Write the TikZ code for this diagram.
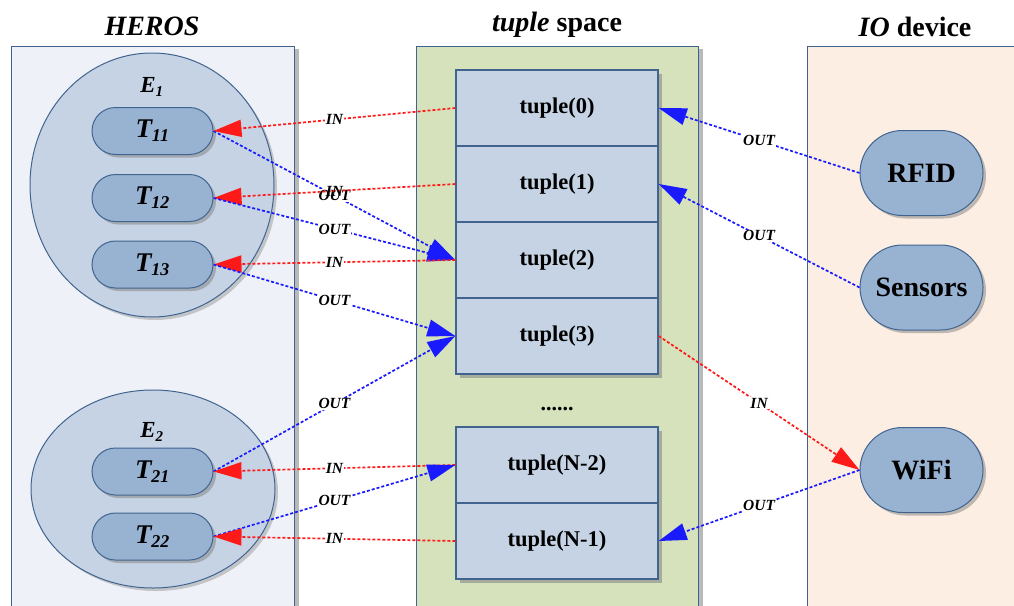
\documentclass[tikz,border=0pt]{standalone}
\usepackage{fontspec}
\setmainfont{Liberation Serif}
\usetikzlibrary{arrows.meta,shadows,shapes.misc,shapes.geometric}
\definecolor{bord}{HTML}{41648F}
\definecolor{herosbg}{HTML}{EEF2F8}
\definecolor{tsbg}{HTML}{D6E2BC}
\definecolor{iobg}{HTML}{FDEEE3}
\definecolor{ellfill}{HTML}{C5D3E4}
\definecolor{capfill}{HTML}{98B2D2}
\definecolor{boxfill}{HTML}{C5D3E4}
\definecolor{inred}{HTML}{FF1A1A}
\definecolor{outblue}{HTML}{1A1AFF}
\begin{document}
\begin{tikzpicture}[x=1pt,y=-1pt,
  panel/.style={draw=bord, line width=1.3pt, inner sep=0pt, anchor=north west,
    drop shadow={shadow xshift=4pt, shadow yshift=-2pt, opacity=0.55, fill=gray}},
  title/.style={font=\fontsize{28}{32}\selectfont\bfseries, inner sep=0pt},
  ell/.style={ellipse, draw=bord, line width=1pt, fill=ellfill, inner sep=0pt,
    drop shadow={shadow xshift=3pt, shadow yshift=-3pt, opacity=0.4, fill=gray}},
  capsule/.style={rounded rectangle, draw=bord, line width=1pt, fill=capfill, inner sep=0pt,
    minimum width=121pt, minimum height=47pt, font=\fontsize{27}{30}\selectfont\bfseries\itshape,
    drop shadow={shadow xshift=3pt, shadow yshift=-3pt, opacity=0.5, fill=gray}},
  devbox/.style={rounded rectangle, draw=bord, line width=1pt, fill=capfill, inner sep=0pt,
    minimum width=123pt, minimum height=85pt, font=\fontsize{28}{31}\selectfont\bfseries,
    drop shadow={shadow xshift=3pt, shadow yshift=-3pt, opacity=0.5, fill=gray}},
  tbox/.style={rectangle, draw=bord, line width=1.3pt, fill=boxfill, inner sep=0pt,
    minimum width=202pt, minimum height=76pt, font=\fontsize{22.5}{25}\selectfont\bfseries,
    drop shadow={shadow xshift=4pt, shadow yshift=-4pt, opacity=0.55, fill=gray}},
  elab/.style={font=\fontsize{23}{26}\selectfont\bfseries\itshape, inner sep=0pt},
  conn/.style={line width=1.7pt, dash pattern=on 3pt off 2pt, -{Triangle[length=28pt,width=17pt]}},
  inl/.style={conn, inred},
  outl/.style={conn, outblue},
  lab/.style={midway, font=\fontsize{15.5}{17}\selectfont\bfseries\itshape, text=black,
    fill=white, inner sep=1pt},
  labnf/.style={midway, font=\fontsize{15.5}{17}\selectfont\bfseries\itshape, text=black,
    inner sep=1pt}
]
\useasboundingbox (0,0) rectangle (1014,605);
\fill[white] (0,0) rectangle (1014,605);

% panels
\node[panel, fill=herosbg, minimum width=283pt, minimum height=600pt] (heros) at (11,46) {};
\node[panel, fill=tsbg, minimum width=282pt, minimum height=600pt] (ts) at (416,46) {};
\node[panel, fill=iobg, minimum width=240pt, minimum height=600pt] (io) at (807,46) {};

% titles
\node[title] (th) at (152,26) {\itshape HEROS};
\node[title] (tt) at (557,25) {\textit{tuple} space};
\node[title] (ti) at (915,27) {\textit{IO} device};

% HEROS entities
\node[ell, minimum width=244pt, minimum height=264pt] (E1) at (152,185) {};
\node[ell, minimum width=244pt, minimum height=198pt] (E2) at (153,489) {};
\node[elab] (e1l) at (152,87) {E\textsubscript{\fontsize{15}{17}\selectfont 1}};
\node[elab] (e2l) at (152,432) {E\textsubscript{\fontsize{15}{17}\selectfont 2}};

\node[capsule] (T11) at (152.5,131) {T\textsubscript{\fontsize{18}{20}\selectfont 11}};
\node[capsule] (T12) at (152.5,198) {T\textsubscript{\fontsize{18}{20}\selectfont 12}};
\node[capsule] (T13) at (152.5,264.5) {T\textsubscript{\fontsize{18}{20}\selectfont 13}};
\node[capsule] (T21) at (152.5,471.5) {T\textsubscript{\fontsize{18}{20}\selectfont 21}};
\node[capsule] (T22) at (152.5,536.5) {T\textsubscript{\fontsize{18}{20}\selectfont 22}};

% tuple boxes
\node[tbox] (t0) at (557,108) {tuple(0)};
\node[tbox] (t1) at (557,184) {tuple(1)};
\node[tbox] (t2) at (557,260) {tuple(2)};
\node[tbox] (t3) at (557,336) {tuple(3)};
\node[font=\fontsize{22}{24}\selectfont\bfseries, inner sep=0pt] (dots) at (557,409) {......};
\node[tbox] (tn2) at (557,465) {tuple(N-2)};
\node[tbox] (tn1) at (557,541) {tuple(N-1)};

% IO devices
\node[devbox] (rfid) at (921.5,173) {RFID};
\node[devbox] (sens) at (921.5,287.5) {Sensors};
\node[devbox] (wifi) at (921.5,470) {WiFi};

% connectors left
\draw[outl] (T11.east) -- node[lab] {OUT} (t2.west);
\draw[inl] (t0.west) -- node[lab] {IN} (T11.east);
\draw[inl] (t1.west) -- node[labnf] {IN} (T12.east);
\draw[outl] (T12.east) -- node[lab] {OUT} (t2.west);
\draw[inl] (t2.west) -- node[lab] {IN} (T13.east);
\draw[outl] (T13.east) -- node[lab] {OUT} (t3.west);
\draw[outl] (T21.east) -- node[lab] {OUT} (t3.west);
\draw[inl] (tn2.west) -- node[lab] {IN} (T21.east);
\draw[outl] (T22.east) -- node[lab] {OUT} (tn2.west);
\draw[inl] (tn1.west) -- node[lab] {IN} (T22.east);

% connectors right
\draw[outl] (rfid.west) -- node[lab] {OUT} (t0.east);
\draw[outl] (sens.west) -- node[lab] {OUT} (t1.east);
\draw[inl] (t3.east) -- node[lab] {IN} (wifi.west);
\draw[outl] (wifi.west) -- node[lab] {OUT} (tn1.east);
\end{tikzpicture}
\end{document}
